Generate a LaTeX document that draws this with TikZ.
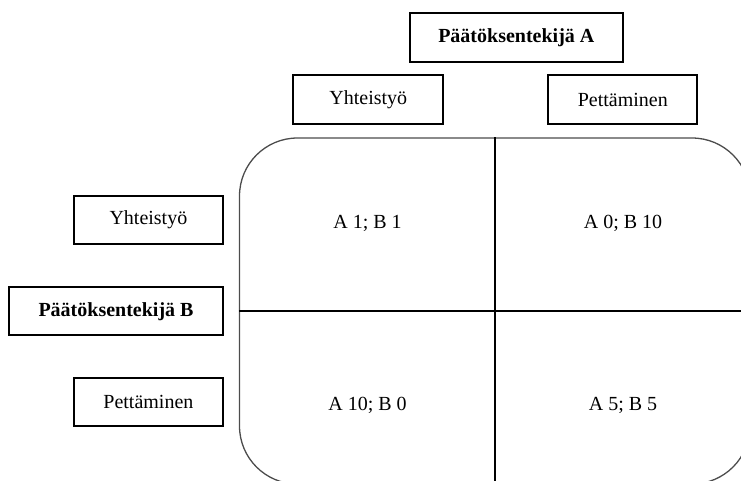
\documentclass[tikz,border=0pt]{standalone}
\usepackage{fontspec}
\setmainfont{Liberation Serif}
\begin{document}
\begin{tikzpicture}[x=1pt,y=-1pt,
  font=\fontsize{20}{24}\selectfont,
  labelbox/.style={draw=black,line width=2pt,inner sep=0pt,
    minimum width=#1,minimum height=48.5pt},
  labelbox/.default=150pt,
  payoff/.style={inner sep=0pt},
  grid/.style={draw=black!70,line width=1.3pt,rounded corners=58pt,
    inner sep=0pt,minimum width=510.5pt,minimum height=346pt},
  divider/.style={draw=black,line width=1.8pt}]
\useasboundingbox (0,0) rectangle (741,480);
\clip (0,0) rectangle (741,480);

% player headings and strategy boxes
\node[labelbox=212.7pt,font=\fontsize{20}{24}\selectfont\bfseries] (pa) at (516.3,37.5) {Päätöksentekijä A};
\node[labelbox=150pt] (yA) at (368.3,99.7) {Yhteistyö};
\node[labelbox=149pt] (pA) at (622.8,99.7) {Pettäminen};
\node[labelbox=148.7pt] (yB) at (148.4,220) {Yhteistyö};
\node[labelbox=213.4pt,font=\fontsize{20}{24}\selectfont\bfseries] (pb) at (116,311.2) {Päätöksentekijä B};
\node[labelbox=148.7pt] (pB) at (148.4,402.2) {Pettäminen};

% payoff matrix
\node[grid] (m) at (494.75,311) {};
\draw[divider] (m.north) -- (m.south);
\draw[divider] (m.west) -- (m.east);

\node[payoff] (c11) at (367.5,223) {A 1; B 1};
\node[payoff] (c12) at (623,223) {A 0; B 10};
\node[payoff] (c21) at (367.5,405) {A 10; B 0};
\node[payoff] (c22) at (623,405) {A 5; B 5};
\end{tikzpicture}
\end{document}
